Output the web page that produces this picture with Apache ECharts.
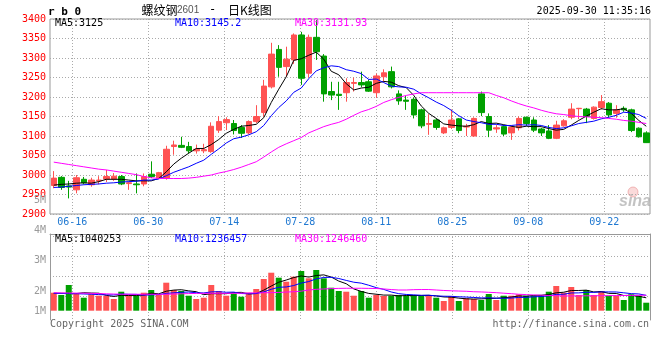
<!DOCTYPE html>
<html><head><meta charset="utf-8">
<script src="https://cdn.jsdelivr.net/npm/echarts@6/dist/echarts.min.js"></script>
<style>html,body{margin:0;padding:0;background:#fff}#c{width:660px;height:360px}</style>
</head><body><div id="c"></div>
<script>
const dates = ['06-11','06-12','06-13','06-16','06-17','06-18','06-19','06-20','06-23','06-24','06-25','06-26','06-27','06-30',
'07-01','07-02','07-03','07-04','07-07','07-08','07-09','07-10','07-11','07-14','07-15','07-16','07-17','07-18','07-21','07-22','07-23','07-24','07-25','07-28','07-29','07-30','07-31',
'08-01','08-04','08-05','08-06','08-07','08-08','08-11','08-12','08-13','08-14','08-15','08-18','08-19','08-20','08-21','08-22','08-25','08-26','08-27','08-28','08-29',
'09-01','09-02','09-03','09-04','09-05','09-08','09-09','09-10','09-11','09-12','09-15','09-16','09-17','09-18','09-19','09-22','09-23','09-24','09-25','09-26','09-29','09-30'];

const opens = [2973,2994,2972,2962,2989,2975,2985,2990,2990,2996,
2978,2977,2977,3002,2993,2992,3073,3076,3073,3062,
3062,3060,3115,3134,3132,3122,3108,3137,3160,3226,
3322,3278,3295,3359,3261,3353,3305,3214,3207,3211,
3235,3237,3239,3211,3252,3265,3208,3192,3194,3167,
3130,3141,3108,3122,3144,3123,3100,3208,3150,3118,
3124,3108,3121,3148,3141,3118,3113,3094,3126,3148,
3170,3169,3145,3173,3184,3158,3171,3167,3120,3108];
const closes = [2992,2968,2969,2993,2980,2987,2987,2996,2997,2977,
2980,2975,2996,2996,3006,3066,3077,3071,3062,3066,
3065,3125,3137,3142,3114,3107,3137,3150,3228,3310,
3276,3297,3359,3248,3353,3316,3208,3205,3204,3237,
3237,3231,3215,3254,3262,3226,3190,3189,3154,3126,
3132,3122,3121,3141,3114,3125,3145,3160,3115,3121,
3105,3122,3145,3132,3115,3108,3094,3128,3139,3169,
3171,3150,3174,3188,3154,3167,3167,3114,3098,3083];
const lows = [2966,2962,2940,2953,2976,2970,2976,2982,2985,2974,
2962,2953,2971,2992,2990,2988,3052,3069,3055,3055,
3056,3057,3108,3115,3104,3095,3104,3133,3150,3222,
3252,3252,3285,3231,3250,3295,3188,3192,3167,3188,
3214,3225,3213,3198,3240,3222,3180,3167,3145,3120,
3103,3116,3105,3118,3107,3100,3098,3151,3097,3108,
3100,3090,3114,3126,3110,3100,3092,3092,3124,3143,
3143,3133,3142,3168,3147,3147,3162,3110,3096,3082];
const highs = [3010,2997,2985,3000,2995,2993,2997,3013,3005,3000,
2983,3004,3004,3035,3008,3075,3088,3098,3085,3078,
3080,3135,3151,3148,3141,3128,3140,3179,3244,3339,
3333,3329,3363,3367,3360,3397,3310,3239,3239,3248,
3250,3265,3245,3260,3271,3278,3217,3203,3199,3170,
3156,3145,3124,3168,3146,3131,3148,3214,3158,3128,
3128,3126,3150,3150,3148,3121,3128,3139,3143,3184,
3172,3172,3176,3205,3187,3179,3176,3170,3122,3112];

const ma5 = [2974,2976,2977,2979,2980,2979,2983,2989,2989,2989,
2987,2985,2985,2985,2991,3008,3028,3043,3056,3068,
3068,3078,3091,3107,3117,3125,3127,3130,3147,3186,
3220,3252,3294,3298,3307,3315,3297,3266,3257,3234,
3218,3223,3225,3235,3240,3238,3229,3224,3204,3177,
3158,3145,3131,3128,3126,3125,3129,3137,3132,3133,
3129,3125,3122,3125,3124,3124,3119,3115,3117,3128,
3140,3151,3161,3170,3167,3167,3170,3158,3140,3125];
const ma10 = [2968,2969,2971,2973,2975,2976,2977,2979,2980,2982,
2983,2984,2987,2987,2990,2998,3007,3014,3021,3030,
3038,3053,3067,3082,3093,3097,3103,3111,3127,3152,
3173,3190,3212,3223,3247,3267,3275,3280,3278,3270,
3266,3260,3245,3246,3237,3228,3226,3225,3220,3208,
3198,3187,3178,3166,3152,3141,3137,3134,3130,3130,
3127,3127,3129,3128,3129,3127,3122,3119,3121,3126,
3132,3135,3138,3144,3148,3153,3161,3159,3155,3145];
const ma30 = [3033,3030,3027,3024,3021,3018,3015,3013,3010,3007,
3004,3001,2996,2993,2991,2991,2991,2991,2992,2994,
2997,3000,3005,3009,3014,3020,3027,3034,3046,3059,
3071,3080,3088,3096,3108,3116,3124,3130,3135,3143,
3153,3162,3168,3176,3186,3193,3199,3204,3208,3211,
3211,3211,3211,3211,3211,3211,3211,3211,3211,3204,
3198,3190,3183,3177,3172,3166,3161,3157,3155,3152,
3150,3149,3148,3147,3145,3143,3140,3138,3135,3132];

const volumes = [1451000,1266000,2073000,1403000,1048000,1322000,1209000,1209000,943000,1532000,
1209000,1209000,1451000,1669000,1266000,2258000,1669000,1589000,1209000,943000,
1048000,2073000,1589000,1209000,1403000,1129000,1451000,1750000,2557000,3064000,
2662000,2339000,2742000,3201000,2612000,3282000,2612000,1855000,1589000,1532000,
1209000,1589000,1048000,1266000,1185000,1209000,1266000,1209000,1266000,1185000,
1266000,1048000,782000,1185000,782000,1000000,943000,862000,1347000,862000,
1209000,1209000,1322000,1209000,1209000,1266000,1532000,1992000,1451000,1911000,
1266000,1669000,1266000,1589000,1209000,1209000,862000,1322000,1209000,645000];
const volMa5 = [1400000,1400000,1390000,1380000,1449000,1423000,1411000,1238000,1146000,1244000,
1220000,1220000,1269000,1414000,1361000,1571000,1663000,1691000,1598000,1534000,
1292000,1373000,1373000,1373000,1464000,1480000,1356000,1388000,1658000,1990000,
2297000,2474000,2673000,2802000,2712000,2835000,2890000,2713000,2390000,2174000,
1759000,1554000,1393000,1329000,1259000,1259000,1194000,1227000,1227000,1227000,
1238000,1194000,1109000,1093000,1013000,959000,939000,954000,987000,1003000,
1045000,1098000,1190000,1163000,1232000,1244000,1308000,1442000,1490000,1630000,
1630000,1658000,1513000,1540000,1399000,1388000,1227000,1238000,1163000,1040253];
const volMa10 = [1400000,1390000,1380000,1370000,1350000,1330000,1300000,1280000,1270000,1346000,
1322000,1316000,1254000,1280000,1303000,1396000,1442000,1480000,1506000,1448000,
1432000,1518000,1532000,1486000,1499000,1386000,1365000,1381000,1516000,1727000,
1889000,1915000,2031000,2230000,2351000,2566000,2682000,2693000,2596000,2443000,
2297000,2222000,2053000,1860000,1717000,1509000,1374000,1310000,1278000,1243000,
1249000,1194000,1168000,1160000,1120000,1099000,1067000,1032000,1040000,1008000,
1002000,1019000,1072000,1075000,1118000,1145000,1203000,1316000,1327000,1431000,
1437000,1483000,1478000,1515000,1515000,1509000,1443000,1376000,1352000,1236457];
const volMa30 = [1447000,1437000,1428000,1419000,1410000,1400000,1382000,1363000,1345000,1326000,
1326000,1326000,1326000,1326000,1326000,1326000,1345000,1363000,1382000,1391000,
1400000,1400000,1400000,1400000,1400000,1410000,1428000,1437000,1447000,1456000,
1475000,1502000,1530000,1577000,1669000,1725000,1753000,1781000,1799000,1808000,
1808000,1808000,1799000,1790000,1753000,1706000,1669000,1669000,1697000,1706000,
1706000,1669000,1632000,1604000,1586000,1567000,1530000,1512000,1484000,1456000,
1410000,1373000,1326000,1298000,1271000,1252000,1224000,1206000,1190000,1190000,
1195000,1200000,1205000,1210000,1215000,1220000,1225000,1232000,1240000,1246460];

const dateTicks = ['06-16','06-30','07-14','07-28','08-11','08-25','09-08','09-22'];
const volTickLabels = ['1M','2M','3M','4M','5M'];
const priceLegend = ['MA5:3125','MA10:3145.2','MA30:3131.93'];
const volLegend = ['MA5:1040253','MA10:1236457','MA30:1246460'];

const UP = '#ff5252', DOWN = '#00a000';
const MA_COLORS = ['#000000', '#0000ff', '#ff00ff'];
const MONO = '"DejaVu Sans Mono", "Liberation Mono", monospace';
const GRID_LINE = { color: '#aaaaaa', type: [1, 2], width: 1 };
const BORDER = '#999999';

const chart = echarts.init(document.getElementById('c'), null, { renderer: 'canvas' });
const legendX = [55, 175, 295];

const graphics = [];
graphics.push({ type: 'text', x: 48, y: 12, style: { text: 'r b 0', fill: '#000', font: 'bold 11px ' + MONO, verticalAlign: 'middle' } });
graphics.push({ type: 'text', x: 141.5, y: 10, style: { text: '螺纹钢', fill: '#000', font: '12px "Noto Sans CJK SC"', verticalAlign: 'middle' } });
graphics.push({ type: 'text', x: 177, y: 10.5, style: { text: '2601', fill: '#555', font: '10px "Liberation Sans"', verticalAlign: 'middle' } });
graphics.push({ type: 'text', x: 209, y: 10, style: { text: '-', fill: '#000', font: '12px ' + MONO, verticalAlign: 'middle' } });
graphics.push({ type: 'text', x: 228, y: 10, style: { text: '日K线图', fill: '#000', font: '12px "Noto Sans CJK SC"', verticalAlign: 'middle' } });
graphics.push({ type: 'text', x: 651, y: 11, style: { text: '2025-09-30 11:35:16', fill: '#000', font: '10px ' + MONO, align: 'right', verticalAlign: 'middle' } });
priceLegend.forEach((t, i) => graphics.push({ type: 'text', x: legendX[i], y: 23.5, z: 20, style: { text: t, fill: MA_COLORS[i], font: '10px ' + MONO, verticalAlign: 'middle' } }));
volLegend.forEach((t, i) => graphics.push({ type: 'text', x: legendX[i], y: 239, z: 20, style: { text: t, fill: MA_COLORS[i], font: '10px ' + MONO, verticalAlign: 'middle' } }));
graphics.push({ type: 'text', x: 50, y: 324, style: { text: 'Copyright 2025 SINA.COM', fill: '#666', font: '10px ' + MONO, verticalAlign: 'middle' } });
graphics.push({ type: 'text', x: 649, y: 324, style: { text: 'http://finance.sina.com.cn', fill: '#666', font: '10px ' + MONO, align: 'right', verticalAlign: 'middle' } });
graphics.push({ type: 'circle', shape: { cx: 633, cy: 192, r: 5 }, style: { fill: 'rgba(240,150,150,0.35)', stroke: 'rgba(230,130,130,0.5)', lineWidth: 1 } });
graphics.push({ type: 'text', x: 635, y: 202, style: { text: 'sina', fill: 'rgba(170,170,170,0.7)', font: 'italic bold 16px "Liberation Sans"', align: 'center', verticalAlign: 'middle' } });

const hiddenVal = (g, pos) => ({ gridIndex: g, type: 'value', min: 0, max: 1, show: false, position: pos });

const option = {
  animation: false,
  backgroundColor: '#fff',
  grid: [
    { left: 50, right: 10, top: 19, height: 195, show: true, borderColor: BORDER, borderWidth: 1, outerBoundsMode: 'none' },
    { left: 72.3, width: 532, top: 19, height: 195, outerBoundsMode: 'none' },
    { left: 50, right: 10, top: 234, height: 82, outerBoundsMode: 'none' },
    { left: 50, right: 10, top: 234, height: 86, outerBoundsMode: 'none' },
    { left: 72.3, width: 532, top: 234, height: 86, outerBoundsMode: 'none' },
    { left: 50, width: 10, top: 200, height: 121.5, outerBoundsMode: 'none' }
  ],
  xAxis: [
    { gridIndex: 0, type: 'category', data: dates, boundaryGap: true, show: false },
    { gridIndex: 1, type: 'value', min: 0, max: dateTicks.length - 1, interval: 1, position: 'bottom',
      axisLine: { show: false }, axisTick: { show: false },
      axisLabel: { margin: 3, color: '#1f78d1', fontFamily: MONO, fontSize: 10, showMinLabel: true, showMaxLabel: true,
        formatter: v => dateTicks[Math.round(v)] || '' },
      splitLine: { show: true, lineStyle: GRID_LINE } },
    { gridIndex: 2, type: 'category', data: dates, boundaryGap: true, show: false },
    { gridIndex: 3, type: 'value', min: 0, max: 1, position: 'top',
      axisLine: { show: true, onZero: false, lineStyle: { color: BORDER, width: 1 } },
      axisTick: { show: false }, axisLabel: { show: false }, splitLine: { show: false } },
    { gridIndex: 4, type: 'value', min: 0, max: dateTicks.length - 1, interval: 1,
      axisLine: { show: false }, axisTick: { show: false }, axisLabel: { show: false },
      splitLine: { show: true, lineStyle: GRID_LINE } },
    hiddenVal(5, 'bottom')
  ],
  yAxis: [
    { gridIndex: 0, type: 'value', min: 2900, max: 3400, interval: 50, position: 'left',
      axisLine: { show: false }, axisTick: { show: false },
      axisLabel: { color: '#ff0000', fontFamily: MONO, fontSize: 10, margin: 4, padding: [0, 0, 5, 0], showMinLabel: true, showMaxLabel: true,
        formatter: v => String(v) },
      splitLine: { show: true, lineStyle: GRID_LINE } },
    hiddenVal(1, 'left'),
    { gridIndex: 2, type: 'value', min: -427400, max: 6185500, show: false },
    { gridIndex: 2, type: 'value', min: 0, max: 4.1, interval: 1, position: 'left',
      axisLine: { show: false }, axisTick: { show: false }, axisLabel: { show: false },
      splitLine: { show: true, showMinLine: false, showMaxLine: false, lineStyle: GRID_LINE } },
    { gridIndex: 3, type: 'value', min: 0, max: 1, position: 'left',
      axisLine: { show: true, onZero: false, lineStyle: { color: BORDER, width: 1 } },
      axisTick: { show: false }, axisLabel: { show: false }, splitLine: { show: false } },
    { gridIndex: 3, type: 'value', min: 0, max: 1, position: 'right',
      axisLine: { show: true, onZero: false, lineStyle: { color: BORDER, width: 1 } },
      axisTick: { show: false }, axisLabel: { show: false }, splitLine: { show: false } },
    hiddenVal(4, 'left'),
    { gridIndex: 5, type: 'value', min: 1, max: 5, interval: 1, position: 'left',
      axisLine: { show: false }, axisTick: { show: false }, splitLine: { show: false },
      axisLabel: { color: '#9a9a9a', fontFamily: MONO, fontSize: 10, margin: 4, showMinLabel: true, showMaxLabel: true,
        formatter: v => { const i = Math.round(v) - 1; const s = volTickLabels[i] || ''; return i === 0 ? '{u|' + s + '}' : s; },
        rich: { u: { color: '#9a9a9a', fontFamily: MONO, fontSize: 10, padding: [0, 0, 21, 0] } } } }
  ],
  series: [
    { type: 'candlestick', xAxisIndex: 0, yAxisIndex: 0, barWidth: 6,
      data: dates.map((d, i) => [opens[i], closes[i], lows[i], highs[i]]),
      itemStyle: { color: UP, color0: DOWN, borderColor: UP, borderColor0: DOWN, borderWidth: 1 } },
    ...[ma5, ma10, ma30].map((arr, k) => ({ type: 'line', xAxisIndex: 0, yAxisIndex: 0, data: arr, showSymbol: false, symbol: 'none', z: 5,
      lineStyle: { color: MA_COLORS[k], width: 1 } })),
    { type: 'bar', xAxisIndex: 2, yAxisIndex: 2, barWidth: 6, data: volumes,
      itemStyle: { color: p => closes[p.dataIndex] >= opens[p.dataIndex] ? UP : DOWN } },
    ...[volMa5, volMa10, volMa30].map((arr, k) => ({ type: 'line', xAxisIndex: 2, yAxisIndex: 2, data: arr, showSymbol: false, symbol: 'none', z: 5,
      lineStyle: { color: MA_COLORS[k], width: 1 } }))
  ],
  graphic: graphics
};
chart.setOption(option);
</script>
</body></html>
